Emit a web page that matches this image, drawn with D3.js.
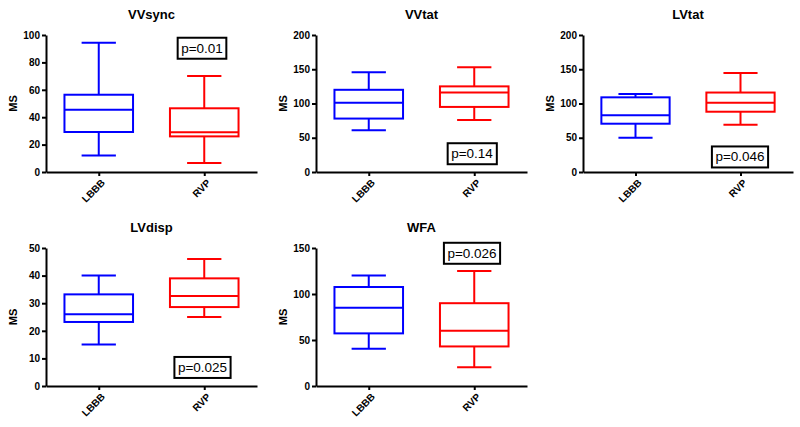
<!DOCTYPE html>
<html><head><meta charset="utf-8">
<script src="https://cdn.jsdelivr.net/npm/d3@7/dist/d3.min.js"></script>
<style>body{margin:0;background:#fff}svg{display:block}text{font-family:"Liberation Sans",Arial,sans-serif}</style>
</head><body>
<svg id="c" width="800" height="427"></svg>
<script>
const groups = ["LBBB", "RVP"];
const colors = ["#0000ff", "#ff0000"];
const titles = ["VVsync", "VVtat", "LVtat", "LVdisp", "WFA"];
const pValues = ["p=0.01", "p=0.14", "p=0.046", "p=0.025", "p=0.026"];
const yMax = [100, 200, 200, 50, 150];
const yStep = [20, 50, 50, 10, 50];
// [min, q1, median, q3, max] for LBBB and RVP
const vvsync = [[12, 29.2, 45.5, 56.4, 94.3], [6.6, 26, 29, 46.5, 70]];
const vvtat = [[61, 78, 101, 120, 145.5], [76, 95, 116, 125, 153]];
const lvtat = [[50, 70.5, 83, 109, 114], [69, 88, 101, 116, 144.5]];
const lvdisp = [[15, 23.2, 26, 33.2, 40], [25, 28.6, 32.6, 39, 46]];
const wfa = [[40.5, 57.2, 85, 107.6, 120], [20.5, 43, 60, 90, 125]];
const pBoxValue = [90.5, 27, 22.3, 6.8, 144.5]; // vertical centre of p label, in data units

const panelData = [vvsync, vvtat, lvtat, lvdisp, wfa];
// layout only
const layout = [
  {l: 46, r: 257, t: 35, b: 172, px: 202},
  {l: 316, r: 527, t: 35, b: 172, px: 472},
  {l: 583, r: 793, t: 35, b: 172, px: 740},
  {l: 46, r: 257, t: 248, b: 386, px: 202.5},
  {l: 316, r: 527, t: 248, b: 386, px: 472}
];

const svg = d3.select("#c");

panelData.forEach((data, i) => {
  const L = layout[i];
  const g = svg.append("g");
  const x = d3.scalePoint().domain(groups).range([L.l, L.r]).padding(0.5);
  const y = d3.scaleLinear().domain([0, yMax[i]]).range([L.b, L.t]);
  const ticks = d3.range(0, yMax[i] + 0.001, yStep[i]);

  // y axis
  const ya = g.append("g").attr("transform", `translate(${L.l},0)`)
    .call(d3.axisLeft(y).tickValues(ticks).tickSize(4).tickPadding(2).tickSizeOuter(0));
  ya.select(".domain").attr("stroke", "#000").attr("stroke-width", 2);
  ya.selectAll(".tick line").attr("stroke", "#000").attr("stroke-width", 2);
  ya.selectAll(".tick text").attr("font-size", 10).attr("font-weight", "bold").attr("fill", "#000")
    .attr("font-family", "Liberation Sans, Arial, sans-serif");

  // x axis
  const xa = g.append("g").attr("transform", `translate(0,${L.b})`)
    .call(d3.axisBottom(x).tickSize(4).tickSizeOuter(0));
  xa.select(".domain").attr("stroke", "#000").attr("stroke-width", 2);
  xa.selectAll(".tick line").attr("stroke", "#000").attr("stroke-width", 2);
  xa.selectAll(".tick text").attr("font-size", 10).attr("font-weight", "bold").attr("fill", "#000")
    .attr("font-family", "Liberation Sans, Arial, sans-serif")
    .attr("text-anchor", "end").attr("dy", "0.35em")
    .attr("transform", "translate(4,9) rotate(-45)").attr("y", 0).attr("x", 0);

  // title
  g.append("text").attr("x", (L.l + L.r) / 2).attr("y", L.t - 16)
    .attr("text-anchor", "middle").attr("font-size", 13).attr("font-weight", "bold").text(titles[i]);
  // y label
  g.append("text").attr("transform", `translate(${L.l - 29},${(L.t + L.b) / 2}) rotate(-90)`)
    .attr("text-anchor", "middle").attr("font-size", 11).attr("font-weight", "bold").text("MS");

  // boxes
  const bw = x.step() * 0.65, cw = bw / 2;
  data.forEach((d, j) => {
    const cx = x(groups[j]);
    const c = colors[j];
    const bg = g.append("g").attr("stroke", c).attr("stroke-width", 2).attr("fill", "none");
    bg.append("line").attr("x1", cx).attr("x2", cx).attr("y1", y(d[0])).attr("y2", y(d[1]));
    bg.append("line").attr("x1", cx).attr("x2", cx).attr("y1", y(d[3])).attr("y2", y(d[4]));
    bg.append("line").attr("x1", cx - cw / 2).attr("x2", cx + cw / 2).attr("y1", y(d[0])).attr("y2", y(d[0]));
    bg.append("line").attr("x1", cx - cw / 2).attr("x2", cx + cw / 2).attr("y1", y(d[4])).attr("y2", y(d[4]));
    bg.append("rect").attr("x", cx - bw / 2).attr("width", bw).attr("y", y(d[3])).attr("height", y(d[1]) - y(d[3]));
    bg.append("line").attr("x1", cx - bw / 2).attr("x2", cx + bw / 2).attr("y1", y(d[2])).attr("y2", y(d[2]));
  });

  // p value box
  const pg = g.append("g");
  const pr = pg.append("rect");
  const pt = pg.append("text").attr("x", L.px).attr("y", y(pBoxValue[i])).attr("dy", "0.35em")
    .attr("text-anchor", "middle").attr("font-size", 13.5).attr("fill", "#000").text(pValues[i]);
  const bb = pt.node().getBBox();
  pr.attr("x", bb.x - 3.5).attr("y", bb.y - 3)
    .attr("width", bb.width + 7).attr("height", bb.height + 6)
    .attr("fill", "#fff").attr("stroke", "#000").attr("stroke-width", 2);
});
</script>
</body></html>
